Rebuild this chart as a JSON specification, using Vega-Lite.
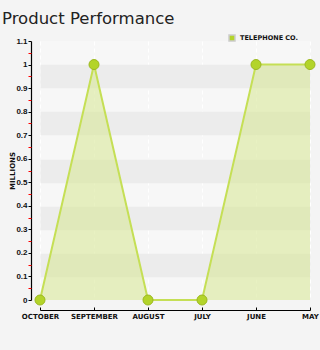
{
  "$schema": "https://vega.github.io/schema/vega-lite/v6.json",
  "autosize": {"type": "none"},
  "padding": {"left": 40, "top": 41, "right": 10, "bottom": 50},
  "width": 270,
  "height": 259,
  "background": "#f4f4f4",
  "title": {
    "text": "Product Performance",
    "anchor": "start",
    "frame": "group",
    "dx": -38,
    "offset": -6,
    "baseline": "alphabetic",
    "font": "DejaVu Sans",
    "fontSize": 16.5,
    "fontWeight": "normal",
    "color": "#222222"
  },
  "config": {
    "view": {"fill": "#f7f7f7", "stroke": null},
    "axis": {"labelFont": "Liberation Sans", "titleFont": "DejaVu Sans"}
  },
  "data": {
    "values": [
      {"month": "OCTOBER", "value": 0, "series": "TELEPHONE CO."},
      {"month": "SEPTEMBER", "value": 1, "series": "TELEPHONE CO."},
      {"month": "AUGUST", "value": 0, "series": "TELEPHONE CO."},
      {"month": "JULY", "value": 0, "series": "TELEPHONE CO."},
      {"month": "JUNE", "value": 1, "series": "TELEPHONE CO."},
      {"month": "MAY", "value": 1, "series": "TELEPHONE CO."}
    ]
  },
  "encoding": {
    "x": {
      "field": "month",
      "type": "ordinal",
      "sort": null,
      "scale": {"type": "point", "padding": 0}
    },
    "y": {
      "field": "value",
      "type": "quantitative",
      "scale": {"domain": [0, 1.1], "nice": false, "zero": true}
    }
  },
  "layer": [
    {
      "mark": {"type": "area", "color": "#d9e89a", "opacity": 0.6},
      "encoding": {
        "x": {
          "field": "month", "type": "ordinal", "sort": null,
          "scale": {"type": "point", "padding": 0},
          "axis": {
            "title": null,
            "orient": "bottom",
            "offset": 10,
            "labelAngle": 0,
            "labelFont": "DejaVu Sans",
            "labelFontSize": 7,
            "labelFontWeight": "bold",
            "labelColor": "#111111",
            "labelPadding": 5,
            "labelOverlap": false,
            "labelBound": false,
            "tickSize": -3,
            "tickColor": "#000000",
            "domainColor": "#000000",
            "domainWidth": 1.2,
            "grid": true,
            "gridColor": "#ffffff",
            "gridDash": [4, 3],
            "gridWidth": 1
          }
        },
        "y": {
          "field": "value", "type": "quantitative",
          "scale": {"domain": [0, 1.1], "nice": false, "zero": true},
          "axis": {
            "orient": "left",
            "title": "MILLIONS",
            "titleFontSize": 7,
            "titleFontWeight": "bold",
            "titleColor": "#111111",
            "titleX": -19,
            "titleY": 129.5,
            "titleAlign": "center",
            "titleBaseline": "middle",
            "titleAngle": -90,
            "offset": 9,
            "format": "~g",
            "values": [0, 0.1, 0.2, 0.3, 0.4, 0.5, 0.6, 0.7, 0.8, 0.9, 1, 1.1],
            "labelFontSize": 8,
            "labelFontWeight": "bold",
            "labelColor": "#111111",
            "labelPadding": 1,
            "tickSize": 3,
            "tickColor": "#000000",
            "domainColor": "#000000",
            "domainWidth": 1.2,
            "grid": false
          }
        }
      }
    },
    {
      "mark": {"type": "line", "color": "#c5df55", "strokeWidth": 2},
      "encoding": {
        "y": {
          "field": "value", "type": "quantitative",
          "scale": {"domain": [0, 1.1], "nice": false, "zero": true},
          "axis": {
            "orient": "left",
            "title": null,
            "offset": 9,
            "values": [0.15, 0.35, 0.55, 0.75, 0.95],
            "labels": false,
            "ticks": false,
            "domain": false,
            "grid": true,
            "gridColor": "#ececec",
            "gridWidth": 23.5
          }
        }
      }
    },
    {
      "mark": {"type": "point", "filled": true, "size": 100, "color": "#b3d42a", "stroke": "#9cb820", "strokeWidth": 1, "opacity": 1},
      "encoding": {
        "color": {
          "field": "series", "type": "nominal",
          "scale": {"range": ["#b3d42a"]},
          "legend": {
            "title": null,
            "orient": "none",
            "legendX": 188,
            "legendY": -7,
            "symbolType": "square",
            "symbolSize": 36,
            "symbolFillColor": "#b3d42a",
            "symbolStrokeColor": "#cccccc",
            "labelFont": "DejaVu Sans",
            "labelFontSize": 6.5,
            "labelFontWeight": "bold",
            "labelColor": "#111111",
            "labelOffset": 4
          }
        },
        "y": {
          "field": "value", "type": "quantitative",
          "scale": {"domain": [0, 1.1], "nice": false, "zero": true},
          "axis": {
            "orient": "left",
            "title": null,
            "offset": 9,
            "values": [0.05, 0.15, 0.25, 0.35, 0.45, 0.55, 0.65, 0.75, 0.85, 0.95, 1.05],
            "labels": false,
            "domain": false,
            "grid": false,
            "tickSize": 3,
            "tickColor": "#ff0000"
          }
        }
      }
    }
  ],
  "resolve": {"axis": {"y": "independent"}}
}
